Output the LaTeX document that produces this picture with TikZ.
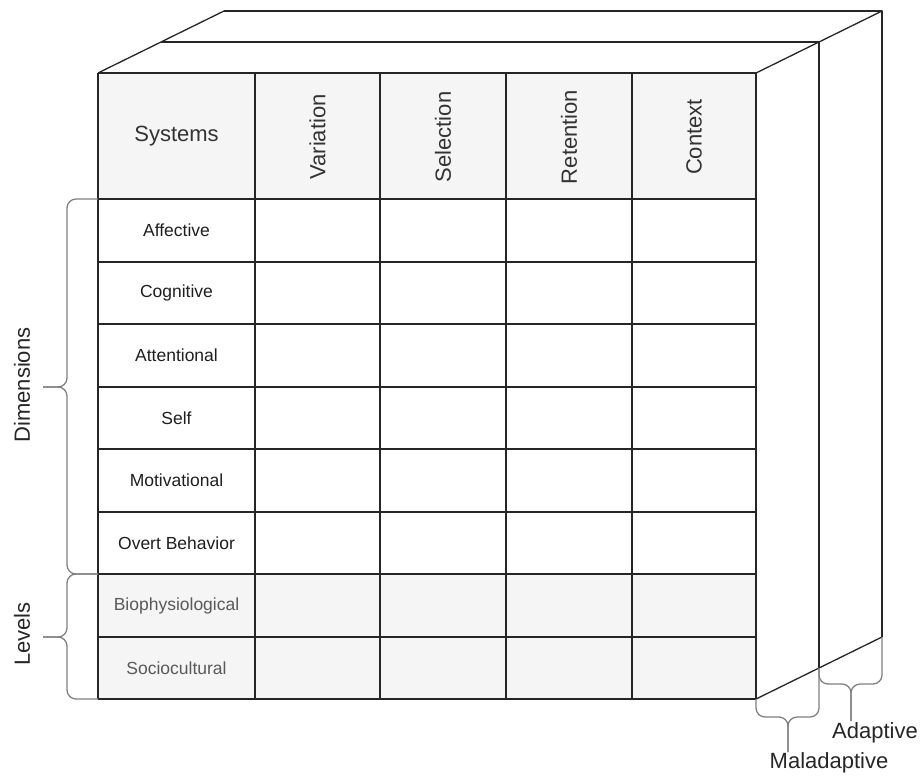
\documentclass[tikz,border=0pt]{standalone}
\usepackage{fontspec}
\setmainfont{Liberation Sans}
\begin{document}
\begin{tikzpicture}[x=1pt,y=-1pt,
  gridline/.style={draw=black!85,line width=1.3pt},
  edge/.style={draw=black!85,line width=1.3pt,line join=round},
  shade/.style={fill=black!4},
  bracepath/.style={draw=black!50,line width=1.3pt,rounded corners=9pt},
  hdrtext/.style={font=\fontsize{22}{24}\selectfont,text=black!80},
  rowtext/.style={font=\fontsize{17.5}{19}\selectfont,text=black!88},
  lvltext/.style={font=\fontsize{17.5}{19}\selectfont,text=black!65},
  sidetext/.style={font=\fontsize{22}{24}\selectfont,text=black!85,rotate=90},
  tagtext/.style={font=\fontsize{22}{24}\selectfont,text=black!85}]
\useasboundingbox (0,0) rectangle (920,776);

% front face corners
\coordinate (ftl) at (98,73);
\coordinate (ftr) at (756,73);
\coordinate (fbr) at (756,699);
\coordinate (fbl) at (98,699);
% middle layer corners
\coordinate (mtl) at (161,42);
\coordinate (mtr) at (819,42);
\coordinate (mbr) at (819,668);
% back layer corners
\coordinate (btl) at (224,11);
\coordinate (btr) at (882,11);
\coordinate (bbr) at (882,637);

% shaded header row and level rows
\fill[shade] (98,73) rectangle (756,199);
\fill[shade] (98,574) rectangle (756,699);

% table grid
\foreach \y in {73,199,262,324,387,449,512,574,637,699}
  \draw[gridline] (98,\y) -- (756,\y);
\foreach \x in {98,255,380,506,632,756}
  \draw[gridline] (\x,73) -- (\x,699);

% depth layers
\draw[edge] (ftl) -- (mtl) -- (btl);
\draw[edge] (ftr) -- (mtr) -- (btr);
\draw[edge] (fbr) -- (mbr) -- (bbr);
\draw[edge] (mtl) -- (mtr) -- (mbr);
\draw[edge] (btl) -- (btr) -- (bbr);

% column headers
\node[hdrtext] (systems) at (176.5,136) {Systems};
\node[hdrtext,rotate=90] (variation) at (317.5,137) {Variation};
\node[hdrtext,rotate=90] (selection) at (443,137) {Selection};
\node[hdrtext,rotate=90] (retention) at (569,137) {Retention};
\node[hdrtext,rotate=90] (context) at (694,137) {Context};

% row labels
\node[rowtext] (affective) at (176.5,230.5) {Affective};
\node[rowtext] (cognitive) at (176.5,293) {Cognitive};
\node[rowtext] (attentional) at (176.5,355.5) {Attentional};
\node[rowtext] (self) at (176.5,418) {Self};
\node[rowtext] (motivational) at (176.5,480.5) {Motivational};
\node[rowtext] (overt) at (176.5,543) {Overt Behavior};
\node[lvltext] (biophys) at (176.5,605.5) {Biophysiological};
\node[lvltext] (socio) at (176.5,668) {Sociocultural};

% side labels and their braces
\node[sidetext] (dimensions) at (22,385) {Dimensions};
\node[sidetext] (levels) at (22,634) {Levels};
\coordinate (dimtip) at (43,387);
\coordinate (lvltip) at (43,637);
\coordinate (dimtop) at (98,199);
\coordinate (dimbot) at (98,574);
\draw[bracepath] (dimtop) -| (67,387) -- (dimtip);
\draw[bracepath] (dimbot) -| (67,387) -- (dimtip);
\draw[bracepath] (dimbot) -| (67,637) -- (lvltip);
\draw[bracepath] (fbl) -| (67,637) -- (lvltip);

% depth labels and their braces
\node[tagtext] (maladaptive) at (829,763) {Maladaptive};
\node[tagtext] (adaptive) at (875,733) {Adaptive};
\coordinate (malstem) at (788,752);
\coordinate (adastem) at (851,721);
\draw[bracepath] (fbr) |- (788,717) -- (malstem);
\draw[bracepath] (mbr) |- (788,717) -- (malstem);
\draw[bracepath] (mbr) |- (851,684) -- (adastem);
\draw[bracepath] (bbr) |- (851,684) -- (adastem);
\end{tikzpicture}
\end{document}
